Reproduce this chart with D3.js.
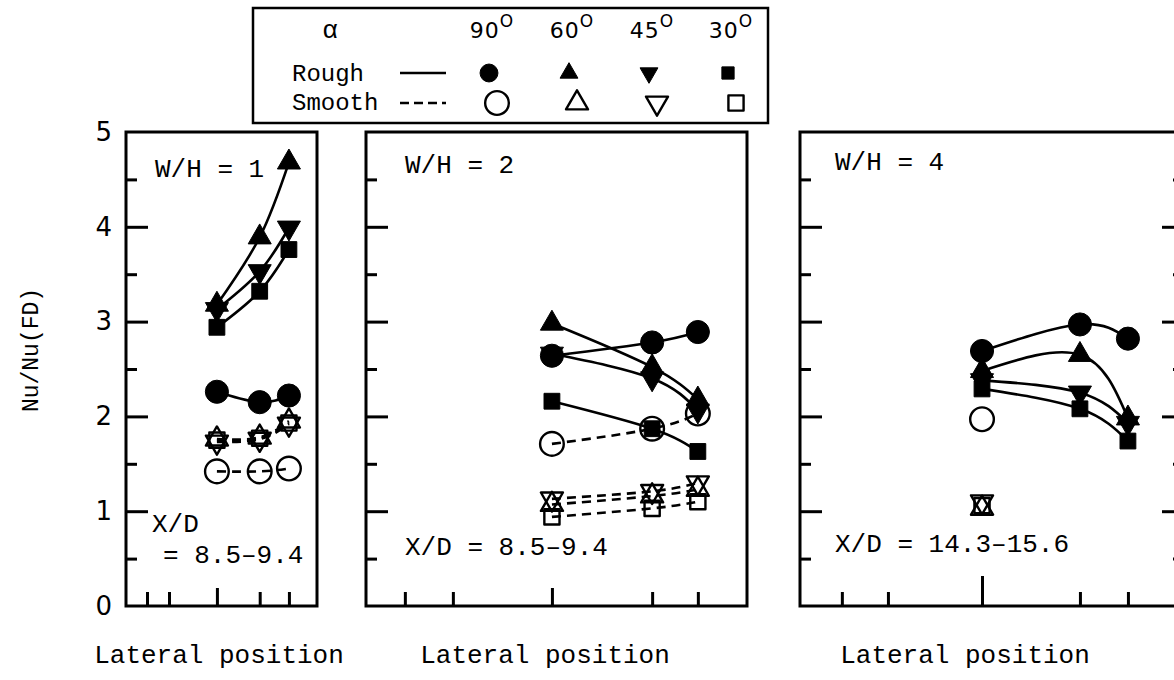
<!DOCTYPE html>
<html>
<head>
<meta charset="utf-8">
<script src="https://cdn.jsdelivr.net/npm/d3@7/dist/d3.min.js"></script>
<style>
  html, body { margin: 0; padding: 0; background: #fff; }
  svg { display: block; }
</style>
</head>
<body>
<svg id="chart" width="1174" height="680"></svg>
<script>
// ---------------- data ----------------
const angles = ["90", "60", "45", "30"];
const surfaces = ["Rough", "Smooth"];
const yMajorTicks = [0, 1, 2, 3, 4, 5];
const yMinorTicks = [0.5, 1.5, 2.5, 3.5, 4.5];
const panelTitles = ["W/H = 1", "W/H = 2", "W/H = 4"];
const panelXD = [["X/D", "= 8.5–9.4"], ["X/D = 8.5–9.4"], ["X/D = 14.3–15.6"]];
const xAxisTitle = "Lateral position";
const yAxisTitle = "Nu/Nu(FD)";

// lateral tick positions (fraction of panel width), data at the last three
const lateralTicks1 = [0.11, 0.225, 0.476, 0.70, 0.853];
const lateralTicks2 = [0.102, 0.228, 0.488, 0.751, 0.871];
const lateralTicks3 = [0.109, 0.229, 0.474, 0.729, 0.854];

// values per angle (90, 60, 45, 30) at lateral ticks 3, 4, 5
const wh1Rough  = [[2.26, 2.15, 2.22], [3.18, 3.89, 4.68], [3.13, 3.53, 3.99], [2.94, 3.32, 3.76]];
const wh1Smooth = [[1.42, 1.42, 1.45], [1.76, 1.78, 1.95], [1.73, 1.76, 1.92], [1.75, 1.77, 1.93]];
const wh2Rough  = [[2.64, 2.78, 2.89], [2.98, 2.52, 2.18], [2.66, 2.40, 2.06], [2.16, 1.87, 1.63]];
const wh2Smooth = [[1.71, 1.87, 2.03], [1.07, 1.16, 1.23], [1.13, 1.21, 1.30], [0.94, 1.03, 1.10]];
const wh4Rough  = [[2.69, 2.97, 2.82], [2.48, 2.65, 1.98], [2.38, 2.25, 1.93], [2.29, 2.08, 1.74]];
const wh4Smooth = [[1.97, null, null], [1.03, null, null], [1.10, null, null], [1.06, null, null]];

// ---------------- layout ----------------
const svg = d3.select("#chart");
const MONO = "'Liberation Mono', 'DejaVu Sans Mono', monospace";
const SANS = "'DejaVu Sans', 'Liberation Sans', sans-serif";
const TOP = 132, BOTTOM = 606;
const y = d3.scaleLinear().domain([0, 5]).range([BOTTOM, TOP]);

const panels = [
  { x0: 126, x1: 317, ticks: lateralTicks1, rough: wh1Rough, smooth: wh1Smooth, title: [155, 177],
    xd: [[152, 532], [163, 563]], xlab: 219, midTick: 18, rightTicks: false },
  { x0: 366, x1: 747, ticks: lateralTicks2, rough: wh2Rough, smooth: wh2Smooth, title: [405, 173],
    xd: [[405, 555]], xlab: 545, midTick: 18, rightTicks: false },
  { x0: 800, x1: 1184, ticks: lateralTicks3, rough: wh4Rough, smooth: wh4Smooth, title: [835, 170],
    xd: [[835, 552]], xlab: 965, midTick: 30, rightTicks: true }
];

// symbol generators
const symType = [d3.symbolCircle, d3.symbolTriangle, d3.symbolTriangle, d3.symbolSquare];
const symRot = [0, 0, 180, 0];
const filledSize = [420, 230, 230, 250];
const openSize = [440, 210, 210, 230];

function drawSymbol(g, i, cx, cy, filled, scale) {
  const s = (filled ? filledSize[i] : openSize[i]) * (scale || 1);
  g.append("path")
    .attr("d", d3.symbol().type(symType[i]).size(s)())
    .attr("transform", `translate(${cx},${cy}) rotate(${symRot[i]})`)
    .attr("fill", filled ? "#000" : "none")
    .attr("stroke", "#000")
    .attr("stroke-width", filled ? 1 : 2.4)
    .attr("stroke-linejoin", "round");
}

panels.forEach((p, pi) => {
  const x = d3.scaleLinear().domain([0, 1]).range([p.x0, p.x1]);
  const g = svg.append("g");

  // frame
  g.append("rect")
    .attr("x", p.x0).attr("y", TOP)
    .attr("width", p.x1 - p.x0).attr("height", BOTTOM - TOP)
    .attr("fill", "none").attr("stroke", "#000").attr("stroke-width", 3);

  // y ticks (inward)
  g.append("g").attr("transform", `translate(${p.x0},0)`)
    .call(d3.axisLeft(y).tickValues(yMajorTicks.slice(1, 5)).tickSize(-22).tickFormat(""));
  g.append("g").attr("transform", `translate(${p.x0},0)`)
    .call(d3.axisLeft(y).tickValues(yMinorTicks).tickSize(-11).tickFormat(""));
  if (p.rightTicks) {
    g.append("g").attr("transform", `translate(${p.x1},0)`)
      .call(d3.axisRight(y).tickValues(yMajorTicks.slice(1, 5)).tickSize(-22).tickFormat(""));
    g.append("g").attr("transform", `translate(${p.x1},0)`)
      .call(d3.axisRight(y).tickValues(yMinorTicks).tickSize(-11).tickFormat(""));
  }
  // x ticks (inward)
  const xAx = g.append("g").attr("transform", `translate(0,${BOTTOM})`)
    .call(d3.axisBottom(x).tickValues(p.ticks).tickSize(-14).tickFormat(""));
  xAx.selectAll(".tick line").filter((d, i) => i === 2).attr("y2", -p.midTick);
  g.selectAll(".domain").remove();
  g.selectAll(".tick line").attr("stroke", "#000").attr("stroke-width", 3);

  // y labels on first panel
  if (pi === 0) {
    const lab = svg.append("g").attr("transform", `translate(${p.x0},0)`)
      .call(d3.axisLeft(y).tickValues(yMajorTicks).tickSize(0).tickPadding(14).tickFormat(d3.format("d")));
    lab.select(".domain").remove();
    lab.selectAll("text").attr("font-family", SANS).attr("font-size", 26).attr("fill", "#000");
  }

  const xs = p.ticks.slice(2).map(v => x(v));

  // lines
  const line = d3.line()
    .defined(d => d.v != null)
    .x(d => d.x).y(d => y(d.v))
    .curve(d3.curveNatural);
  [p.rough, p.smooth].forEach((set, si) => {
    set.forEach(vals => {
      const pts = vals.map((v, k) => ({ x: xs[k], v }));
      if (pts.filter(d => d.v != null).length < 2) return;
      g.append("path")
        .attr("d", line(pts))
        .attr("fill", "none")
        .attr("stroke", "#000")
        .attr("stroke-width", 2.6)
        .attr("stroke-dasharray", si === 1 ? "9,6" : null);
    });
  });
  // symbols: smooth first then rough
  [p.smooth, p.rough].forEach((set, si) => {
    const filled = si === 1;
    set.forEach((vals, ai) => {
      vals.forEach((v, k) => {
        if (v == null) return;
        drawSymbol(g, ai, xs[k], y(v), filled);
      });
    });
  });

  // texts
  g.append("text").attr("x", p.title[0]).attr("y", p.title[1])
    .attr("font-family", MONO).attr("font-size", 26).text(panelTitles[pi]);
  panelXD[pi].forEach((t, k) => {
    g.append("text").attr("x", p.xd[k][0]).attr("y", p.xd[k][1])
      .attr("font-family", MONO).attr("font-size", 26).text(t);
  });
  svg.append("text").attr("x", p.xlab).attr("y", 663).attr("text-anchor", "middle")
    .attr("font-family", MONO).attr("font-size", 26).text(xAxisTitle);
});

// y axis title
svg.append("text")
  .attr("transform", "translate(38,350) rotate(-90)")
  .attr("text-anchor", "middle")
  .attr("font-family", MONO).attr("font-size", 23)
  .text(yAxisTitle);

// ---------------- legend ----------------
const lg = svg.append("g");
lg.append("rect").attr("x", 253).attr("y", 8).attr("width", 515).attr("height", 115)
  .attr("fill", "#fff").attr("stroke", "#000").attr("stroke-width", 2.5);
lg.append("text").attr("x", 330).attr("y", 38).attr("text-anchor", "middle")
  .attr("font-family", MONO).attr("font-size", 26).text("α");
const colX = [492, 572, 652, 731];
angles.forEach((a, i) => {
  const t = lg.append("text").attr("x", colX[i]).attr("y", 38).attr("text-anchor", "middle")
    .attr("font-family", SANS).attr("font-size", 22).attr("letter-spacing", 1);
  t.append("tspan").text(a);
  t.append("tspan").attr("dy", -11).attr("font-size", 17).text("O");
});
const rowY = [73, 103];
const rowBase = [81, 110];
const rowDx = [-3, 5];
surfaces.forEach((s, r) => {
  lg.append("text").attr("x", 292).attr("y", rowBase[r])
    .attr("font-family", MONO).attr("font-size", 24).text(s);
  lg.append("line").attr("x1", 400).attr("x2", 446).attr("y1", rowY[r]).attr("y2", rowY[r])
    .attr("stroke", "#000").attr("stroke-width", 2.4)
    .attr("stroke-dasharray", r === 1 ? "9,5" : null);
  angles.forEach((a, i) => {
    drawSymbol(lg, i, colX[i] + rowDx[r], rowY[r], r === 0, r === 0 ? 0.6 : 1.0);
  });
});
</script>
</body>
</html>
